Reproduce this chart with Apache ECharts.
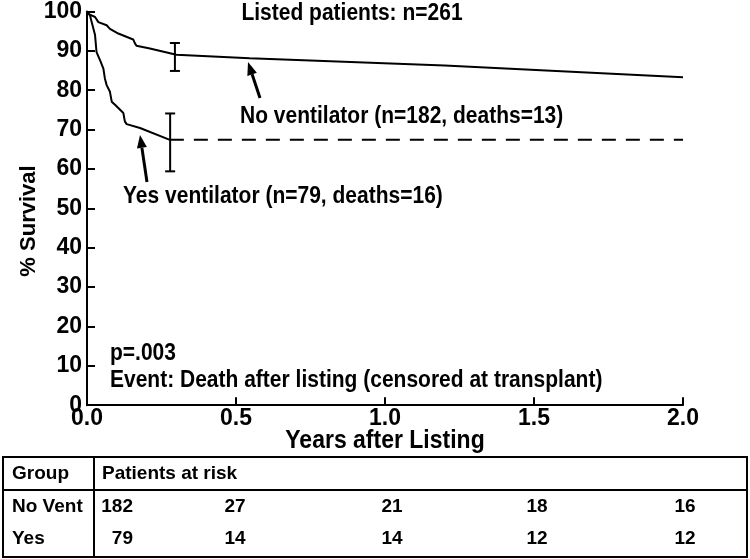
<!DOCTYPE html>
<html>
<head>
<meta charset="utf-8">
<script src="https://cdn.jsdelivr.net/npm/echarts@6/dist/echarts.min.js"></script>
<style>html,body{margin:0;padding:0;background:#fff;}#chart{width:750px;height:559px;}</style>
</head>
<body>
<div id="chart"></div>
<script>
// ---- data ----
const noVentT = [0, 0.004, 0.027, 0.038, 0.066, 0.077, 0.105, 0.155, 0.161, 0.166, 0.211, 0.300, 0.546, 1.2, 2.0];
const noVentS = [100, 99.4, 98.6, 97.3, 96.5, 95.6, 94.4, 92.9, 91.9, 91.3, 90.6, 89.0, 88.1, 86.3, 83.3];
const yesT = [0, 0.010, 0.027, 0.032, 0.044, 0.055, 0.060, 0.066, 0.077, 0.083, 0.094, 0.122, 0.127, 0.133, 0.178, 0.278];
const yesS = [100, 99.0, 94.0, 89.7, 87.6, 85.5, 83.0, 81.3, 79.6, 77.1, 76.3, 74.2, 72.1, 71.4, 70.4, 67.4];
const yesDashT = [0.278, 2.0];
const yesDashS = [67.4, 67.4];
// error bars: [time, low, high]
const errNoVent = [0.295, 84.9, 92.0];
const errYes = [0.279, 59.4, 74.1];
const xTicks = [0, 0.5, 1.0, 1.5, 2.0];
const yTicks = [0, 10, 20, 30, 40, 50, 60, 70, 80, 90, 100];
const tableGroups = ['No Vent', 'Yes'];
const riskNoVent = [182, 27, 21, 18, 16];
const riskYes = [79, 14, 14, 12, 12];

// ---- layout ----
const FF = '"Liberation Sans", Arial, Helvetica, sans-serif';
const riskX = [133, 235, 392, 537, 685];
const riskAlign = ['right', 'center', 'center', 'center', 'center'];
const rowY = [507, 539];

const chart = echarts.init(document.getElementById('chart'));

function zip(a, b) { return a.map((v, i) => [v, b[i]]); }

function arrow(tail, tip) {
  const dx = tip[0] - tail[0], dy = tip[1] - tail[1];
  const L = Math.sqrt(dx * dx + dy * dy);
  const ux = dx / L, uy = dy / L;
  const hl = 13, hw = 5;
  const bx = tip[0] - ux * hl, by = tip[1] - uy * hl;
  return [
    { type: 'line', shape: { x1: tail[0], y1: tail[1], x2: bx, y2: by }, style: { stroke: '#000', lineWidth: 3 } },
    { type: 'polygon', shape: { points: [tip, [bx - uy * hw, by + ux * hw], [bx + uy * hw, by - ux * hw]] }, style: { fill: '#000' } }
  ];
}

function txt(x, y, text, size, align, sy) {
  return { type: 'text', x: x, y: y, scaleY: sy || 1, style: { text: text, fill: '#000', font: 'bold ' + size + 'px ' + FF, align: align || 'left', verticalAlign: 'middle' } };
}

const errRender = function (params, api) {
  const t = api.value(0), lo = api.coord([t, api.value(1)]), hi = api.coord([t, api.value(2)]);
  const w = 5;
  const st = { stroke: '#000', lineWidth: 2 };
  return {
    type: 'group',
    children: [
      { type: 'line', shape: { x1: lo[0], y1: lo[1], x2: hi[0], y2: hi[1] }, style: st },
      { type: 'line', shape: { x1: lo[0] - w, y1: lo[1], x2: lo[0] + w, y2: lo[1] }, style: st },
      { type: 'line', shape: { x1: hi[0] - w, y1: hi[1], x2: hi[0] + w, y2: hi[1] }, style: st }
    ]
  };
};

const graphics = [];
graphics.push(txt(352, 14, 'Listed patients: n=261', 21, 'center', 1.1));
graphics.push(txt(240, 117, 'No ventilator (n=182, deaths=13)', 21, 'left', 1.1));
graphics.push(txt(123, 197, 'Yes ventilator (n=79, deaths=16)', 21, 'left', 1.1));
graphics.push(txt(110, 354, 'p=.003', 21, 'left', 1.1));
graphics.push(txt(110, 381, 'Event: Death after listing (censored at transplant)', 21, 'left', 1.1));
graphics.push(txt(385, 441, 'Years after Listing', 23, 'center', 1.1));
graphics.push({ type: 'text', x: 29, y: 221, rotation: Math.PI / 2, style: { text: '% Survival', fill: '#000', font: 'bold 22px ' + FF, align: 'center', verticalAlign: 'middle' } });
arrow([260, 98], [248, 62]).forEach(g => graphics.push(g));
arrow([147, 182], [140, 135]).forEach(g => graphics.push(g));
// table
graphics.push({ type: 'rect', shape: { x: 3, y: 457, width: 744, height: 100 }, style: { fill: 'none', stroke: '#000', lineWidth: 2 } });
graphics.push({ type: 'line', shape: { x1: 3, y1: 490, x2: 747, y2: 490 }, style: { stroke: '#000', lineWidth: 2 } });
graphics.push({ type: 'line', shape: { x1: 94, y1: 457, x2: 94, y2: 557 }, style: { stroke: '#000', lineWidth: 2 } });
graphics.push(txt(12, 474, 'Group', 19));
graphics.push(txt(102, 474, 'Patients at risk', 19));
[riskNoVent, riskYes].forEach((row, r) => {
  graphics.push(txt(12, rowY[r], tableGroups[r], 19));
  row.forEach((v, i) => graphics.push(txt(riskX[i], rowY[r], String(v), 19, riskAlign[i])));
});

const axisCommon = {
  type: 'value',
  axisLine: { show: true, onZero: false, lineStyle: { color: '#000', width: 2 } },
  axisTick: { show: true, inside: true, length: 8, lineStyle: { color: '#000', width: 2 } },
  splitLine: { show: false }
};

chart.setOption({
  animation: false,
  backgroundColor: '#fff',
  grid: { left: 87, right: 67, top: 9.4, bottom: 153.8 },
  xAxis: Object.assign({}, axisCommon, {
    min: xTicks[0], max: xTicks[xTicks.length - 1], interval: 0.5,
    axisLabel: { formatter: v => v.toFixed(1), color: '#000', fontSize: 23, fontWeight: 'bold', fontFamily: FF, margin: 2, showMaxLabel: true, showMinLabel: true }
  }),
  yAxis: Object.assign({}, axisCommon, {
    min: yTicks[0], max: yTicks[yTicks.length - 1], interval: 10,
    axisLabel: { color: '#000', fontSize: 23, fontWeight: 'bold', fontFamily: FF, margin: 5, showMaxLabel: true, showMinLabel: true }
  }),
  series: [
    { type: 'line', data: zip(noVentT, noVentS), showSymbol: false, lineStyle: { color: '#000', width: 2 }, z: 3 },
    { type: 'line', data: zip(yesT, yesS), showSymbol: false, lineStyle: { color: '#000', width: 2 }, z: 3 },
    { type: 'line', data: zip(yesDashT, yesDashS), showSymbol: false, lineStyle: { color: '#000', width: 2, type: [14, 10] }, z: 3 },
    { type: 'custom', renderItem: errRender, data: [errNoVent, errYes], z: 4 }
  ],
  graphic: graphics
});
</script>
</body>
</html>
